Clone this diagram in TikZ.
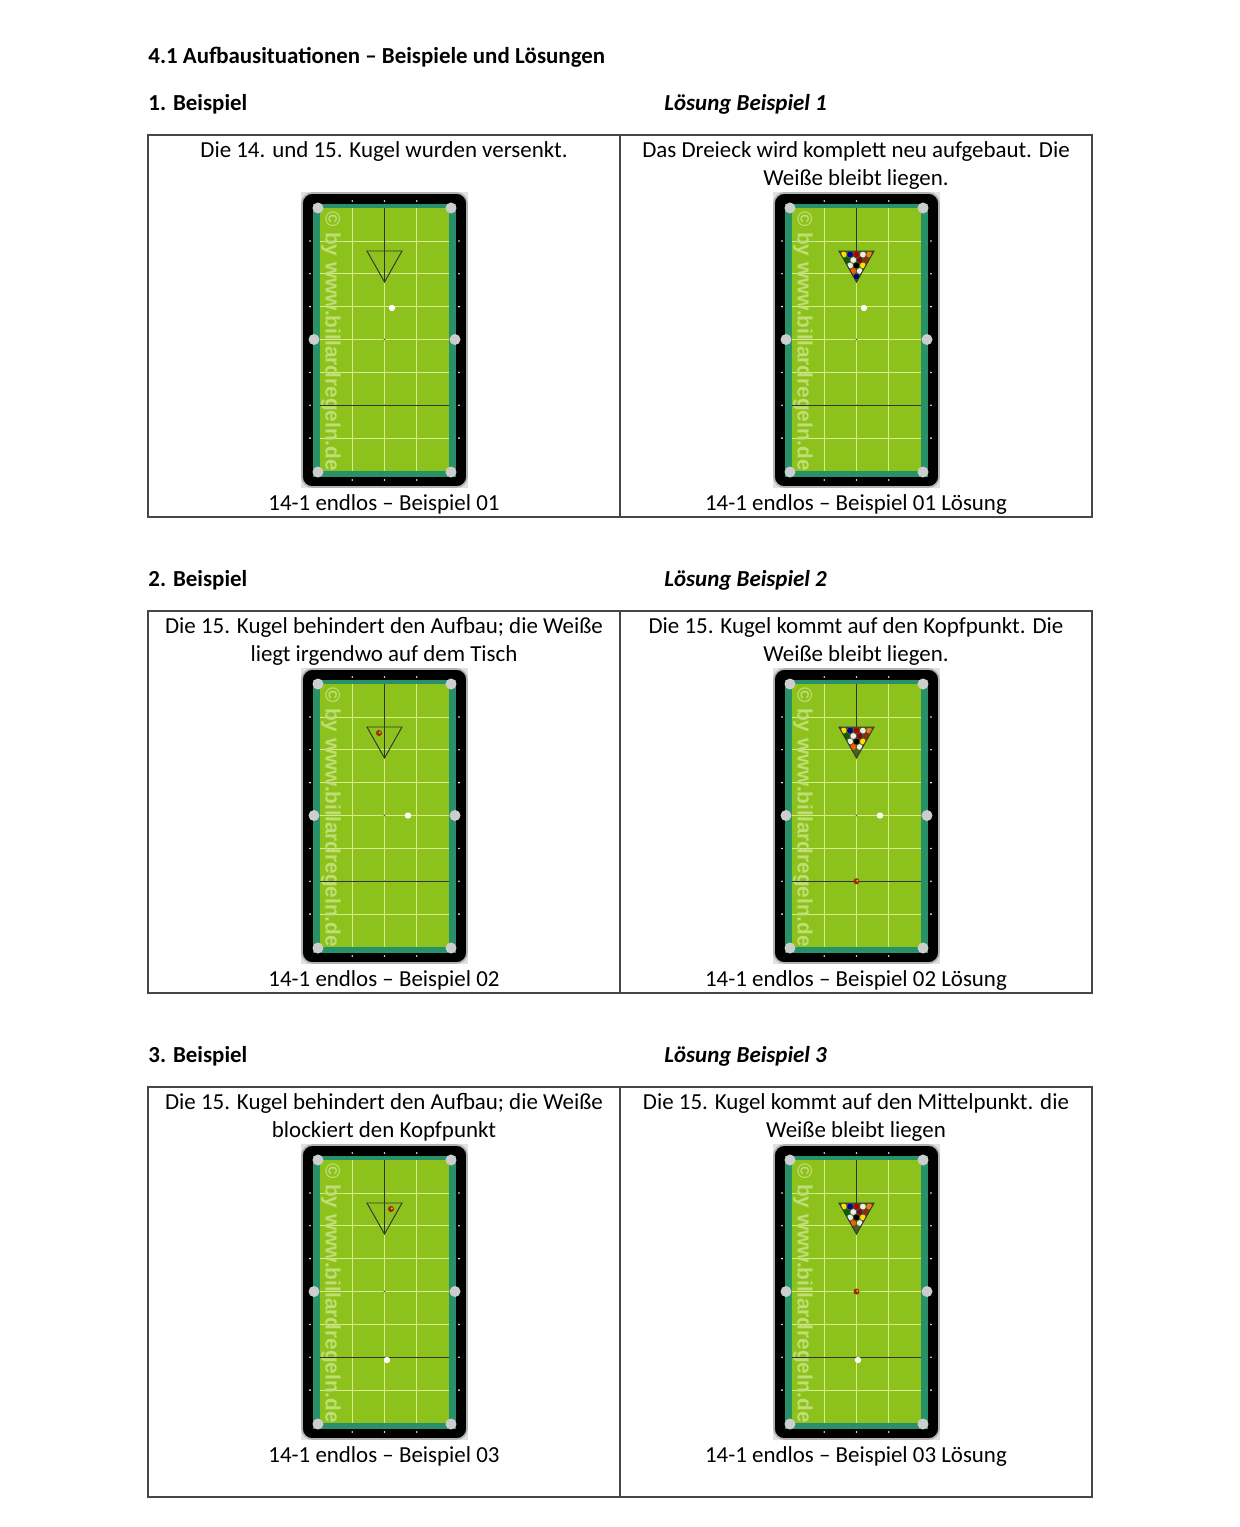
\documentclass[tikz,border=0pt]{standalone}
\usepackage{fontspec}
\setmainfont{Carlito}
\newfontfamily\wmfont{Liberation Sans}
\definecolor{felt}{RGB}{141,194,28}
\definecolor{cushion}{RGB}{40,145,105}
\definecolor{gridc}{RGB}{215,235,140}
\definecolor{pocket}{RGB}{205,205,205}
\definecolor{wmark}{RGB}{192,222,118}
\definecolor{tabline}{RGB}{70,70,70}
\definecolor{ballred}{RGB}{150,40,20}
\tikzset{
  body/.style={font=\fontsize{11}{13}\selectfont, anchor=base, inner sep=0pt},
  head/.style={font=\fontsize{11}{13}\selectfont\bfseries, anchor=base west, inner sep=0pt},
  solhead/.style={font=\fontsize{11}{13}\selectfont\bfseries\itshape, anchor=base west, inner sep=0pt},
  tabrule/.style={draw=tabline, line width=1.2pt},
  gridline/.style={draw=gridc, line width=0.35pt},
  darkline/.style={draw=black!80, line width=0.45pt},
}
% rack of balls in relative table coordinates
\newcommand{\rackballs}{%
  \fill[black!70!green!60!brown] (65,58) -- (100,58) -- (82.5,89) -- cycle;
  \foreach \bx/\by/\bc in {
     69.7/61.5/yellow!80!orange, 76.1/61.5/blue!60!black, 82.5/61.5/red!70!black, 88.9/61.5/white!85!gray, 95.3/61.5/orange!80!brown,
     72.9/67/green!40!black, 79.3/67/white!85!gray, 85.7/67/purple!70!black, 92.1/67/ballred,
     76.1/72.5/white!85!gray, 82.5/72.5/black, 88.9/72.5/yellow!80!orange,
     79.3/78/orange!70!red, 85.7/78/white!85!gray}
   {\fill[\bc] (\bx,\by) circle (2.9);}
  \draw[darkline] (65,58) -- (100,58) -- (82.5,89) -- cycle;
}
\newcommand{\fullrack}{\rackballs\fill[blue!50!black] (82.5,83.5) circle (2.6);}
\newcommand{\emptyrack}{\draw[darkline] (65,58) -- (100,58) -- (82.5,89) -- cycle;}
\newcommand{\cueball}[2]{\fill[white] (#1,#2) circle (3.2);}
\newcommand{\fifteen}[2]{\fill[ballred] (#1,#2) circle (3); \fill[orange!70!yellow] (#1+0.8,#2-0.6) circle (1.2);}
% pool table, origin = top-left of outer frame
\newcommand{\pooltable}[3]{%
\begin{scope}[shift={(#1,#2)}]
  \fill[pocket!60] (-1,-1) rectangle (166,295);
  \filldraw[fill=black, draw=gray!60, line width=0.8pt, rounded corners=5pt] (0,0) rectangle (165,294);
  \fill[cushion] (11,11) rectangle (154,284);
  \fill[felt] (18,15) rectangle (147,278);
  \foreach \gx in {50.25,82.5,114.75} {\draw[gridline] (\gx,15) -- (\gx,278);}
  \foreach \gy in {47.9,80.75,113.6,146.5,179.4,212.25,245.1} {\draw[gridline] (18,\gy) -- (147,\gy);}
  \foreach \gx in {50.25,82.5,114.75} {\fill[white] (\gx,8) circle (0.9); \fill[white] (\gx,287) circle (0.9);}
  \foreach \gy in {47.9,80.75,113.6,179.4,212.25,245.1} {\fill[white] (8,\gy) circle (0.9); \fill[white] (157,\gy) circle (0.9);}
  \foreach \px/\py in {16/15,149/15,16/279,149/279,12/146.5,153/146.5} {\fill[pocket] (\px,\py) circle (5.5);}
  \node[rotate=-90, inner sep=0pt, text=wmark, font=\wmfont\bfseries\fontsize{10}{11}\selectfont] at (29,148) {© by www.billardregeln.de};
  \draw[darkline] (82.5,15) -- (82.5,89);
  \draw[darkline] (18,212.25) -- (147,212.25);
  \fill[black!70] (82.5,146.5) circle (0.9);
  \fill[black!70] (82.5,212.25) circle (0.9);
  #3
\end{scope}}
\begin{document}
\begin{tikzpicture}[x=0.48pt, y=-0.48pt]
\useasboundingbox[fill=white] (0,0) rectangle (1240,1527);
% headings
\node[head] (title) at (148,63) {4.1 Aufbausituationen – Beispiele und Lösungen};
\node[head] (h1) at (148,110) {1. Beispiel};
\node[solhead] (s1) at (664,110) {Lösung Beispiel 1};
\node[head] (h2) at (148,586) {2. Beispiel};
\node[solhead] (s2) at (664,586) {Lösung Beispiel 2};
\node[head] (h3) at (148,1062) {3. Beispiel};
\node[solhead] (s3) at (664,1062) {Lösung Beispiel 3};
% table frames
\draw[tabrule] (148,135) rectangle (1092,517) (620,135) -- (620,517);
\draw[tabrule] (148,611) rectangle (1092,993) (620,611) -- (620,993);
\draw[tabrule] (148,1087) rectangle (1092,1497) (620,1087) -- (620,1497);
% row 1
\node[body] (t1a) at (384,157) {Die 14. und 15. Kugel wurden versenkt.};
\node[body] (t1b) at (856,157) {Das Dreieck wird komplett neu aufgebaut. Die};
\node[body] (t1c) at (856,185) {Weiße bleibt liegen.};
\pooltable{302}{193}{\emptyrack\cueball{90}{115}}
\pooltable{774}{193}{\fullrack\cueball{90}{115}}
\node[body] (c1a) at (384,510) {14-1 endlos – Beispiel 01};
\node[body] (c1b) at (856,510) {14-1 endlos – Beispiel 01 Lösung};
% row 2
\node[body] (t2a) at (384,633) {Die 15. Kugel behindert den Aufbau; die Weiße};
\node[body] (t2b) at (384,661) {liegt irgendwo auf dem Tisch};
\node[body] (t2c) at (856,633) {Die 15. Kugel kommt auf den Kopfpunkt. Die};
\node[body] (t2d) at (856,661) {Weiße bleibt liegen.};
\pooltable{302}{669}{\emptyrack\fifteen{77}{64}\cueball{106}{146.5}}
\pooltable{774}{669}{\rackballs\fifteen{82.5}{212.25}\cueball{106}{146.5}}
\node[body] (c2a) at (384,986) {14-1 endlos – Beispiel 02};
\node[body] (c2b) at (856,986) {14-1 endlos – Beispiel 02 Lösung};
% row 3
\node[body] (t3a) at (384,1109) {Die 15. Kugel behindert den Aufbau; die Weiße};
\node[body] (t3b) at (384,1137) {blockiert den Kopfpunkt};
\node[body] (t3c) at (856,1109) {Die 15. Kugel kommt auf den Mittelpunkt. die};
\node[body] (t3d) at (856,1137) {Weiße bleibt liegen};
\pooltable{302}{1145}{\emptyrack\fifteen{89}{64}\cueball{85}{215}}
\pooltable{774}{1145}{\rackballs\fifteen{82.5}{146.5}\cueball{84}{215}}
\node[body] (c3a) at (384,1462) {14-1 endlos – Beispiel 03};
\node[body] (c3b) at (856,1462) {14-1 endlos – Beispiel 03 Lösung};
\end{tikzpicture}
\end{document}
